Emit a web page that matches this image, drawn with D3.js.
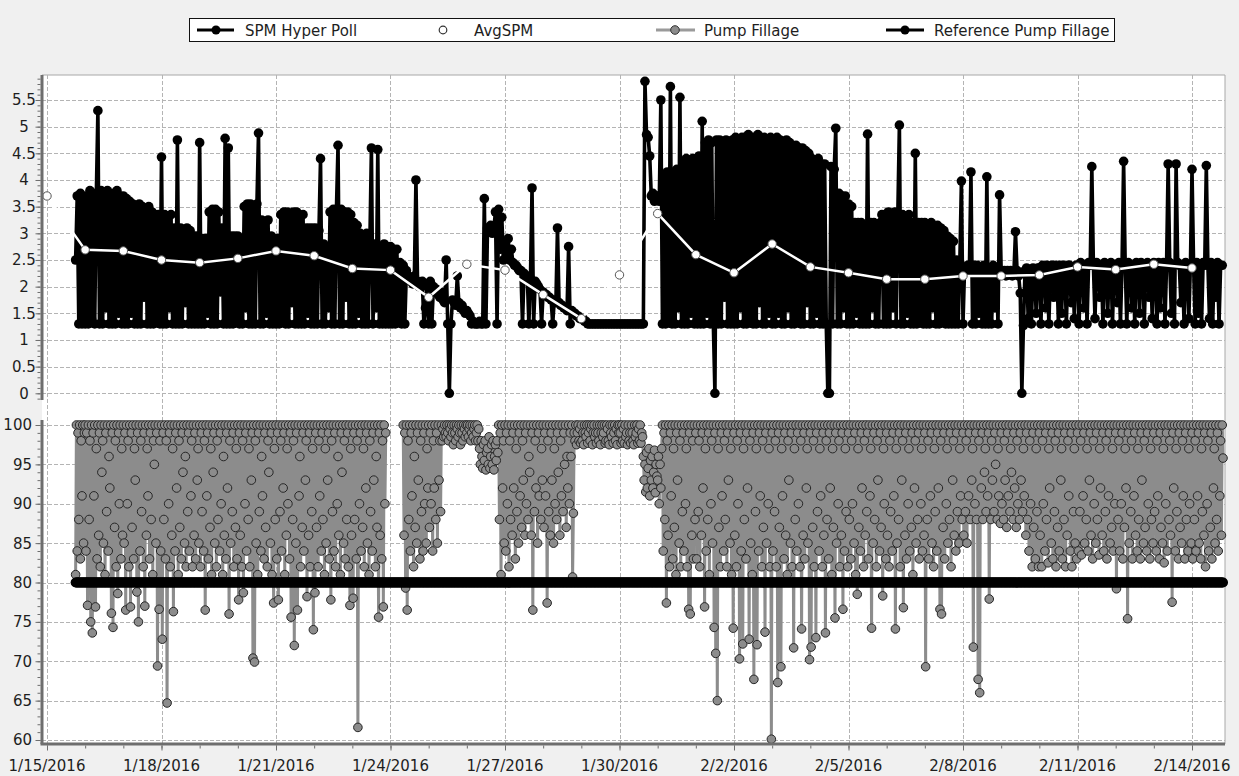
<!DOCTYPE html>
<html>
<head>
<meta charset="utf-8">
<script src="https://cdn.jsdelivr.net/npm/d3@7"></script>
<style>
  body { margin: 0; background: #f0f0f0; }
  svg { display: block; font-family: "DejaVu Sans", Verdana, sans-serif; }
</style>
</head>
<body>
<div id="chart"></div>
<script>
// ---- values ----

// one string per calendar day, first day starts at 18:00
const readingDays = ["1/15/2016", "1/16/2016", "1/17/2016", "1/18/2016", "1/19/2016", "1/20/2016", "1/21/2016",
    "1/22/2016", "1/23/2016", "1/24/2016", "1/25/2016", "1/26/2016", "1/27/2016", "1/28/2016", "1/29/2016",
    "1/30/2016", "1/31/2016", "2/1/2016", "2/2/2016", "2/3/2016", "2/4/2016", "2/5/2016", "2/6/2016",
    "2/7/2016", "2/8/2016", "2/9/2016", "2/10/2016", "2/11/2016", "2/12/2016", "2/13/2016", "2/14/2016"];
const firstReadingHour = 18;

// SPM Hyper Poll, one reading per hour
const spmHyperPoll = [
    "2.5 3.7 1.3 3.75 1.3 3.6",
    "1.3 3.7 1.3 3.8 1.4 3.75 1.3 3.7 5.3 1.3 3.8 1.3 3.75 1.6 3.8 1.3 3.7 1.3 3.75 1.3 3.8 1.5 3.7 1.3",
    "3.7 1.3 3.65 1.3 3.6 1.5 3.55 1.3 3.5 1.3 3.55 1.3 3.5 1.8 3.45 1.3 3.5 1.3 3.4 1.3 3.35 1.4 3.35 1.3",
    "4.43 1.3 3.35 1.3 3.3 1.6 3.35 1.3 3.1 1.3 4.75 1.3 3.1 1.3 3.05 1.7 3.1 1.3 3.05 1.3 2.95 1.3 2.95 1.3",
    "4.7 1.3 2.9 1.3 2.9 1.5 3.4 1.3 3.45 1.3 3.45 1.3 3.4 1.9 3.1 1.3 4.78 1.3 4.6 1.3 2.95 1.3 2.95 1.4",
    "2.95 1.3 2.9 1.3 3.5 1.6 3.55 1.3 3.55 1.3 3.5 1.3 3.55 4.88 1.3 3.25 1.3 3.2 1.5 3.25 1.3 2.95 1.3 2.9",
    "1.3 2.9 1.3 3.35 1.4 3.4 1.3 3.4 1.3 3.35 1.7 3.4 1.3 3.4 1.3 3.3 1.3 3.35 1.3 3.1 1.5 3.1 1.3 3.1",
    "1.3 3.1 1.3 3.05 4.4 1.3 2.8 1.3 2.75 1.6 3.4 1.3 3.45 1.3 3.45 4.65 1.3 3.45 1.3 3.4 1.8 3.4 1.3 3.35",
    "1.3 3.2 1.3 3.15 1.5 3.0 1.3 2.95 1.3 3.0 1.3 2.8 4.6 1.3 2.8 1.6 4.57 1.3 2.75 1.3 2.8 1.3 2.75 1.3",
    "2.75 1.3 2.7 1.3 2.7 1.4 2.45 1.3 2.4 1.3 2.3 2.2 2.15 2.1 2.05 2.2 4.0 2.1 2.0 2.05 2.1 1.3 1.6 2.0",
    "1.3 2.1 1.3 2.0 1.9 1.95 1.85 1.8 1.9 1.75 1.7 2.5 1.3 0 1.3 1.75 1.7 1.65 2.2 1.7 1.6 1.65 1.55 1.5",
    "1.55 1.5 1.45 1.3 1.35 1.3 1.3 1.3 1.35 1.3 1.3 3.65 1.3 3.1 3.05 3.15 3.0 3.1 3.4 1.3 3.45 2.7 3.3 2.5",
    "2.8 2.6 2.9 2.5 2.7 2.45 2.4 2.4 2.35 2.3 2.3 1.3 2.25 2.2 2.2 1.3 2.15 3.85 1.3 2.1 2.05 2.0 1.95 1.3",
    "1.9 1.85 1.85 1.8 1.8 1.75 1.3 1.75 1.7 3.1 1.7 1.65 1.65 1.6 1.6 1.55 2.75 1.3 1.55 1.5 1.5 1.45 1.45 1.4",
    "1.4 1.4 1.35 1.35 1.3 1.3 1.3 1.3 1.3 1.3 1.3 1.3 1.3 1.3 1.3 1.3 1.3 1.3 1.3 1.3 1.3 1.3 1.3 1.3",
    "1.3 1.3 1.3 1.3 1.3 1.3 1.3 1.3 1.3 1.3 1.3 1.3 1.3 1.3 1.3 1.3 5.85 4.85 4.8 4.45 3.7 3.75 3.6 3.7",
    "3.7 3.6 5.5 1.3 4.1 1.3 4.15 1.4 5.75 1.3 4.15 1.3 4.2 1.6 5.55 1.3 4.35 1.3 4.4 1.3 4.35 1.5 4.4 1.3",
    "4.4 1.3 4.45 1.3 5.1 1.3 4.7 1.5 4.75 1.3 4.7 1.3 0 4.75 1.3 4.75 1.3 4.7 1.8 4.75 1.3 4.7 1.3 4.75",
    "1.3 4.8 1.3 4.75 1.6 4.8 1.3 4.8 1.3 4.85 1.4 4.8 1.3 4.8 1.3 4.85 1.7 4.8 1.3 4.8 1.3 4.75 1.5 4.8",
    "1.3 4.75 1.3 4.8 1.5 4.75 1.3 4.7 1.3 4.75 1.6 4.7 1.3 4.6 1.3 4.65 1.4 4.6 1.3 4.6 1.3 4.55 1.7 4.5",
    "1.3 4.4 1.3 4.35 1.5 4.4 1.3 4.3 1.3 4.3 1.3 0 0 4.25 1.3 4.2 4.97 1.3 3.75 1.3 3.7 1.6 3.7 1.3",
    "3.55 1.3 3.5 1.3 3.2 1.5 3.2 1.3 3.2 1.3 3.15 1.3 4.86 1.3 3.2 1.6 3.2 1.3 3.15 1.3 3.2 3.35 1.3 3.35",
    "1.3 3.4 1.3 3.35 1.6 3.4 1.3 3.35 5.03 1.3 3.35 1.3 3.3 1.5 3.35 1.3 3.2 1.3 4.5 1.3 3.2 1.4 3.2 1.3",
    "3.2 1.3 3.15 1.3 3.2 1.6 3.1 1.3 3.15 1.3 3.1 1.4 3.05 1.3 2.95 1.3 2.9 1.3 2.85 1.3 2.5 1.3 2.45 3.98",
    "1.3 2.35 2.3 2.4 2.3 4.15 1.3 2.4 1.3 2.4 1.5 2.35 1.3 2.4 1.3 4.06 1.3 2.35 1.3 2.4 1.6 2.35 1.3 3.72",
    "2.3 2.25 2.3 2.2 2.3 2.25 2.3 2.2 2.25 3.03 2.3 2.2 1.88 0 1.27 2.3 2.35 1.4 2.3 1.3 2.35 2.3 1.5 2.35",
    "2.35 1.3 2.4 2.35 1.6 2.4 1.3 2.35 2.4 1.8 2.4 2.35 1.3 2.4 1.5 2.4 2.35 1.3 2.4 2.4 1.7 2.35 1.4 2.4",
    "2.4 1.3 2.45 2.4 1.6 2.4 1.3 2.45 2.4 4.25 2.4 1.4 2.45 2.4 1.8 2.4 1.3 2.45 2.4 1.5 2.4 2.45 1.3 2.4",
    "2.4 1.7 2.45 1.3 2.4 4.35 2.4 1.3 2.45 2.4 1.6 2.4 1.3 2.45 2.4 1.5 2.45 2.4 1.3 2.4 2.45 1.8 2.4 1.4",
    "2.45 2.4 1.3 2.45 1.6 2.4 2.45 1.3 2.4 4.3 2.45 1.5 2.4 1.3 4.3 2.45 2.4 1.7 2.4 1.3 2.45 2.4 1.4 2.4",
    "4.2 2.4 1.3 2.45 1.5 2.4 1.3 2.45 2.4 4.27 2.4 1.4 2.45 1.3 2.4 1.8 2.45 1.3 2.4 2.4"
];

// Pump Fillage (%), one reading every half hour, "-" = no reading
const pumpFillage = [
    "81 100 84 99 88 100 83 98 91 100 85 99",
    "100 84 99 77.1 100 88 98 75 100 73.6 99 91 100 76.9 97 83 100 86 99 82 100 94 98 85 100 81 99 89 100 84 96 92 100 76.1 99 74.3 100 87 98 82 100 78.6 99 90 100 83 97 86",
    "100 85 99 76.5 100 90 98 82 100 76.9 99 87 100 83 97 93 100 78.8 99 75 100 84 98 89 100 82 99 77 100 86 97 91 100 83 99 88 100 81 98 95 100 85 99 69.4 100 76.6 98 84",
    "100 72.8 99 88 100 83 98 64.7 100 90 99 82 100 86 97 76.3 100 84 99 92 100 81 98 87 100 83 99 94 100 85 96 82 100 89 99 84 100 91 98 82 100 86 99 83 100 93 97 85",
    "100 82 99 89 100 84 98 76.5 100 91 99 83 100 87 97 81 100 94 99 85 100 82 98 88 100 84 99 90 100 81 96 86 100 83 99 92 100 76 98 85 100 89 99 82 100 87 97 83",
    "100 77.8 99 86 100 82 98 78.7 100 90 99 84 100 88 97 82 100 93 99 70.4 100 69.9 98 85 100 81 99 89 100 84 96 91 100 83 99 87 100 82 98 94 100 85 99 81 100 77.4 97 88",
    "100 83 99 77.8 100 89 98 84 100 92 99 81 100 86 97 90 100 83 99 75.6 100 88 98 72 100 85 99 76.5 100 91 96 82 100 87 99 84 100 93 98 78.2 100 86 99 82 100 89 97 74",
    "100 78.7 99 87 100 82 98 91 100 84 99 88 100 81 97 85 100 93 99 83 100 77.8 98 89 100 84 99 82 100 90 96 86 100 81 99 94 100 85 98 83 100 88 99 82 100 77.1 97 86",
    "100 78 99 88 100 83 98 61.6 100 90 99 84 100 87 97 82 100 92 99 85 100 81 98 89 100 84 99 93 100 82 96 87 100 75.6 99 86 100 83 98 76.9 100 90 99 - - - - -",
    "- - - - - - - - - - - - - - - - 100 86 99 79.3 100 76.5 98 88 100 84 99 91 100 82 96 87 100 85 99 93 100 83 98 89 100 84 99 90 100 85 97 92",
    "100 87 99 90 100 84 98 92 100 88 99 85 100 93 98 89 100 98 99.5 98.5 100 99 98.5 100 99 98 100 99.5 98.5 100 99 97.5 100 99 98 100 99.5 98.5 100 99 97.5 100 99 98 100 99.5 98.5 100",
    "99 100 98.5 99.5 100 98 99 100 98.5 99.5 100 98 99 100 98 99.5 97 95 98 96 94.5 97.5 95.5 98 94.3 96.5 97 95 98.5 94.5 96 97.5 95 98 94.3 96 97.5 95.5 98 96.5 100 88 99 81 100 92 98 85",
    "100 84 99 90 100 82 98 88 100 86 99 92 100 83 97 89 100 85 99 91 100 87 98 93 100 86 99 90 100 88 96 94 100 86 99 76.5 100 89 98 92 100 85 99 91 100 88 97 93",
    "100 87 99 91 100 77.4 98 89 100 86 99 93 100 85 97 90 100 88 99 94 100 86 98 91 100 89 99 95 100 87 96 92 100 90 99 96 100 80.7 88.8 99 98 100 97.5 99 100 98 99.5 97.7",
    "100 98 99 97.5 100 99 98.5 100 97.7 99 100 98 99.5 100 97.5 99 100 98.5 99 97.7 100 99 98 100 97.5 99 100 98.5 99 100 97.7 98 100 99.5 98 97.5 100 99 98.5 100 97.7 99 100 98 99.5 97.5 100 99",
    "100 99 97.7 100 98 99.5 97.7 100 98.5 99 97.5 100 98 99 97.7 100 99 98 97.5 100 98.5 99 100 97.7 99.5 98 100 97.7 99 98.5 96 93 95 91.5 96.5 92 94.5 97 91 95.5 93 96 92 94 96.8 91.4 95 93.5",
    "93 96 90 95 92 97 100 84 99 88 100 77.4 98 86 100 82 99 91 100 83 97 87 100 81 99 93 100 85 98 82 100 89 99 84 100 90 97 82 100 76.6 99 76 100 86 98 83 100 88",
    "99 83 100 89 98 82 100 86 99 92 100 76.9 97 84 100 88 99 81 100 90 98 85 100 74.3 99 71 100 65 97 87 100 82 99 91 100 84 98 88 100 82 99 93 100 85 97 81 100 74.2",
    "99 86 100 82 98 90 100 70.3 99 84 100 72.2 97 88 100 83 99 92 100 72.8 98 85 100 81 99 67.7 100 89 97 72.1 100 84 99 91 100 82 98 87 100 73.7 99 85 100 90 97 82 100 60.1",
    "99 84 100 89 98 82 100 67.3 99 87 100 69.3 97 91 100 83 99 86 100 81 98 93 100 85 99 82 100 71.7 97 88 100 84 99 90 100 82 98 74.1 100 86 99 83 100 92 97 85 100 70.2",
    "99 71.8 100 87 98 82 100 73 99 89 100 84 97 91 100 82 99 86 100 73.6 98 88 100 83 99 92 100 81 97 87 100 75.5 99 85 100 90 98 82 100 86 99 76.6 100 84 97 89 100 82",
    "99 88 100 83 98 90 100 85 99 81 100 78.5 97 87 100 84 99 92 100 82 98 86 100 89 99 83 100 91 97 74.2 100 85 99 88 100 82 98 93 100 84 99 87 100 78.3 97 90 100 83",
    "99 86 100 82 98 89 100 84 99 91 100 74.1 97 85 100 88 99 82 100 93 98 76.8 100 86 99 83 100 90 97 84 100 87 99 81 100 92 98 85 100 88 99 83 100 90 97 84 100 86",
    "99 69.3 100 88 98 83 100 91 99 85 100 82 97 89 100 84 99 92 100 76.6 98 76 100 87 99 83 100 90 97 85 100 88 99 82 100 93 98 86 100 84 99 89 100 85 97 91 100 88",
    "99 86 100 89 98 85 100 91 99 88 100 93 97 71.8 100 90 99 88 100 67.7 98 66 100 92 99 88 100 94 97 89 100 91 99 77.9 100 88 98 93 100 89 99 95 100 88 97 91 100 87.5",
    "99 90 100 88 98 93 100 87 99 91 100 89 97 94 100 88 99 92 100 87 98 90 100 88 99 93 100 89 97 91 100 86 99 88 100 84 98 90 100 82 99 87 100 83 97 89 100 82",
    "99 86 100 82 98 90 100 84 99 88 100 82.5 97 92 100 85 99 83 100 89 98 82 100 87 99 84 100 93 97 83 100 88 99 82 100 86 98 91 100 84 99 82 100 89 97 85 100 83",
    "99 84 100 89 98 83.5 100 91 99 85 100 88 97 84 100 93 99 86 100 83 98 90 100 85 99 88 100 83.5 97 92 100 86 99 84 100 89 98 83 100 91 99 85 100 87 97 84 100 90",
    "99 79.2 100 88 98 84 100 90 99 83 100 87 97 92 100 75.4 99 85 100 89 98 83 100 91 99 86 100 84 97 88 100 83 99 93 100 85 98 87 100 84 99 90 100 83 97 88 100 85",
    "99 89 100 84 98 91 100 83 99 87 100 85 97 82.5 100 90 99 84 100 88 98 86 100 77.5 99 92 100 84 97 89 100 83 99 87 100 85 98 91 100 83 99 88 100 84 97 90 100 85",
    "99 83 100 88 98 84 100 91 99 85 100 83 97 89 100 86 99 82 100 90 98 84 100 87 99 83 100 92 97 85 100 88 99 84 100 91 98 86 100 95.8"
];

// Reference Pump Fillage is flat
const referencePumpFillage = 80;

// AvgSPM, one value per day at midnight
const avgSpm = [3.7, 2.69, 2.67, 2.5, 2.45, 2.53, 2.67, 2.58, 2.34, 2.31, 1.8, 2.42, 2.31, 1.85, 1.4, 2.22,
    3.37, 2.6, 2.26, 2.8, 2.37, 2.26, 2.14, 2.14, 2.2, 2.2, 2.22, 2.37, 2.32, 2.42, 2.35];

// axis ticks
const spmTicks = [0, 0.5, 1, 1.5, 2, 2.5, 3, 3.5, 4, 4.5, 5, 5.5];
const fillageTicks = [60, 65, 70, 75, 80, 85, 90, 95, 100];
const dateTicks = ["1/15/2016", "1/18/2016", "1/21/2016", "1/24/2016", "1/27/2016", "1/30/2016",
    "2/2/2016", "2/5/2016", "2/8/2016", "2/11/2016", "2/14/2016"];

const legendItems = ["SPM Hyper Poll", "AvgSPM", "Pump Fillage", "Reference Pump Fillage"];

// ---- layout ----
const width = 1239, height = 776;
const plot = { left: 42, right: 1225, top: 75, bottom: 744 };
const spmPanel = { top: 75, bottom: 400 };
const fillPanel = { top: 420, bottom: 744 };
const axisColor = "#6e6e6e";
const gridColor = "#b4b4b4";
const textColor = "#1e1e1e";

const parseDay = d3.timeParse("%m/%d/%Y");

// turn the per-day strings into {date, value} readings
function expand(days, perDay) {
    const step = 60 * 24 / perDay;
    const out = [];
    days.forEach((s, i) => {
        const day = parseDay(readingDays[i]);
        const start = i === 0 ? firstReadingHour * 60 : 0;
        s.trim().split(/\s+/).forEach((v, j) => {
            out.push({ date: d3.timeMinute.offset(day, start + j * step), value: v === "-" ? null : +v });
        });
    });
    return out;
}

const spmData = expand(spmHyperPoll, 24);
const pumpData = expand(pumpFillage, 48);
const refData = pumpData.map(d => ({ date: d.date, value: referencePumpFillage }));
const avgData = avgSpm.map((v, i) => ({ date: parseDay(readingDays[i]), value: v }));

const svg = d3.select("#chart")
    .append("svg")
    .attr("width", width)
    .attr("height", height);

// background and plot area
svg.append("rect").attr("width", width).attr("height", height).attr("fill", "#f0f0f0");
svg.append("rect")
    .attr("x", plot.left).attr("y", plot.top)
    .attr("width", plot.right - plot.left).attr("height", plot.bottom - plot.top)
    .attr("fill", "#fff");
svg.append("path")
    .attr("d", `M${plot.left},${plot.top}H${plot.right}V${plot.bottom}`)
    .attr("fill", "none").attr("stroke", "#a8a8a8");

// scales
const x = d3.scaleTime()
    .domain([parseDay(dateTicks[0]), parseDay(dateTicks[dateTicks.length - 1])])
    .range([47, 1192]);
const ySpm = d3.scaleLinear().domain([0, 5.5]).range([393.3, 100]);
const yFill = d3.scaleLinear().domain([60, 100]).range([740, 425]);

// dashed grid
const grid = svg.append("g")
    .attr("stroke", gridColor)
    .attr("stroke-width", 1)
    .attr("stroke-dasharray", "4,2");
grid.selectAll(".g-spm").data(spmTicks).join("line")
    .attr("x1", plot.left).attr("x2", plot.right)
    .attr("y1", d => Math.round(ySpm(d)) + 0.5).attr("y2", d => Math.round(ySpm(d)) + 0.5);
grid.selectAll(".g-fill").data(fillageTicks).join("line")
    .attr("x1", plot.left).attr("x2", plot.right)
    .attr("y1", d => Math.round(yFill(d)) + 0.5).attr("y2", d => Math.round(yFill(d)) + 0.5);
grid.selectAll(".g-date").data(dateTicks).join("line")
    .attr("x1", d => Math.round(x(parseDay(d))) + 0.5).attr("x2", d => Math.round(x(parseDay(d))) + 0.5)
    .attr("y1", plot.top).attr("y2", plot.bottom);

// Pump Fillage
svg.append("path")
    .datum(pumpData)
    .attr("d", d3.line()
        .defined(d => d.value !== null)
        .x(d => x(d.date))
        .y(d => yFill(d.value)))
    .attr("fill", "none")
    .attr("stroke", "#8c8c8c")
    .attr("stroke-width", 3)
    .attr("stroke-linejoin", "round");
svg.append("g").selectAll("circle")
    .data(pumpData.filter(d => d.value !== null))
    .join("circle")
    .attr("cx", d => x(d.date))
    .attr("cy", d => yFill(d.value))
    .attr("r", 4.3)
    .attr("fill", "#8c8c8c")
    .attr("stroke", "#262626")
    .attr("stroke-width", 1);

// Reference Pump Fillage
svg.append("path")
    .datum(refData)
    .attr("d", d3.line().x(d => x(d.date)).y(d => yFill(d.value)))
    .attr("fill", "none")
    .attr("stroke", "#000")
    .attr("stroke-width", 3);
svg.append("g").selectAll("circle")
    .data(refData)
    .join("circle")
    .attr("cx", d => x(d.date))
    .attr("cy", d => yFill(d.value))
    .attr("r", 5)
    .attr("fill", "#000");

// SPM Hyper Poll
svg.append("path")
    .datum(spmData)
    .attr("d", d3.line().x(d => x(d.date)).y(d => ySpm(d.value)))
    .attr("fill", "none")
    .attr("stroke", "#000")
    .attr("stroke-width", 3.6)
    .attr("stroke-linejoin", "round");
svg.append("g").selectAll("circle")
    .data(spmData)
    .join("circle")
    .attr("cx", d => x(d.date))
    .attr("cy", d => ySpm(d.value))
    .attr("r", 4.8)
    .attr("fill", "#000");

// AvgSPM
svg.append("path")
    .datum(avgData)
    .attr("d", d3.line().x(d => x(d.date)).y(d => ySpm(d.value)))
    .attr("fill", "none")
    .attr("stroke", "#fff")
    .attr("stroke-width", 2.5);
svg.append("g").selectAll("circle")
    .data(avgData)
    .join("circle")
    .attr("cx", d => x(d.date))
    .attr("cy", d => ySpm(d.value))
    .attr("r", 4.2)
    .attr("fill", "#fff")
    .attr("stroke", "#555")
    .attr("stroke-width", 1);

// ---- axes ----
const axes = svg.append("g").attr("font-size", 15).attr("fill", textColor);

// y axis for SPM: major and minor ticks, labels centred like the original
axes.append("g")
    .attr("transform", `translate(${plot.left - 1.5},0)`)
    .call(d3.axisLeft(ySpm).tickValues(d3.range(-0.1, 5.95, 0.1)).tickSize(3).tickFormat(""))
    .call(g => g.select(".domain").remove())
    .call(g => g.selectAll("line").attr("stroke", axisColor));
axes.append("g")
    .attr("transform", `translate(${plot.left - 1.5},0)`)
    .call(d3.axisLeft(ySpm).tickValues(spmTicks).tickSize(5).tickFormat(""))
    .call(g => g.select(".domain").remove())
    .call(g => g.selectAll("line").attr("stroke", axisColor));
axes.selectAll(".lab-spm").data(spmTicks).join("text")
    .attr("x", 24)
    .attr("y", d => ySpm(d))
    .attr("dy", "0.36em")
    .attr("text-anchor", "middle")
    .text(d => d);
axes.append("line")
    .attr("x1", plot.left).attr("x2", plot.left)
    .attr("y1", spmPanel.top).attr("y2", spmPanel.bottom)
    .attr("stroke", axisColor).attr("stroke-width", 3);

// y axis for Pump Fillage
axes.append("g")
    .attr("transform", `translate(${plot.left - 1.5},0)`)
    .call(d3.axisLeft(yFill).tickValues(d3.range(60, 101, 1)).tickSize(3).tickFormat(""))
    .call(g => g.select(".domain").remove())
    .call(g => g.selectAll("line").attr("stroke", axisColor));
axes.append("g")
    .attr("transform", `translate(${plot.left - 1.5},0)`)
    .call(d3.axisLeft(yFill).tickValues(fillageTicks).tickSize(5).tickFormat(""))
    .call(g => g.select(".domain").remove())
    .call(g => g.selectAll("line").attr("stroke", axisColor));
axes.selectAll(".lab-fill").data(fillageTicks).join("text")
    .attr("x", 32)
    .attr("y", d => yFill(d))
    .attr("dy", "0.36em")
    .attr("text-anchor", "end")
    .text(d => d);
axes.append("line")
    .attr("x1", plot.left).attr("x2", plot.left)
    .attr("y1", fillPanel.top).attr("y2", fillPanel.bottom)
    .attr("stroke", axisColor).attr("stroke-width", 3);

// date axis
axes.append("g")
    .attr("transform", `translate(0,${plot.bottom + 1.5})`)
    .call(d3.axisBottom(x).tickValues(readingDays.map(parseDay)).tickSize(3).tickFormat(""))
    .call(g => g.select(".domain").remove())
    .call(g => g.selectAll("line").attr("stroke", axisColor));
axes.append("g")
    .attr("transform", `translate(0,${plot.bottom + 1.5})`)
    .call(d3.axisBottom(x).tickValues(dateTicks.map(parseDay)).tickSize(5).tickFormat(""))
    .call(g => g.select(".domain").remove())
    .call(g => g.selectAll("line").attr("stroke", axisColor));
axes.selectAll(".lab-date").data(dateTicks).join("text")
    .attr("x", d => x(parseDay(d)))
    .attr("y", 771)
    .attr("text-anchor", "middle")
    .text(d => d);
axes.append("line")
    .attr("x1", plot.left - 1.5).attr("x2", plot.right)
    .attr("y1", plot.bottom).attr("y2", plot.bottom)
    .attr("stroke", axisColor).attr("stroke-width", 3);

// ---- legend ----
const legend = svg.append("g").attr("font-size", 15).attr("fill", textColor);
legend.append("rect")
    .attr("x", 189.5).attr("y", 18.5)
    .attr("width", 925).attr("height", 23)
    .attr("fill", "#fff")
    .attr("stroke", "#111");

const legendY = 30;
// SPM Hyper Poll
legend.append("line").attr("x1", 197).attr("x2", 234).attr("y1", legendY).attr("y2", legendY)
    .attr("stroke", "#000").attr("stroke-width", 3);
legend.append("circle").attr("cx", 216).attr("cy", legendY).attr("r", 4.5).attr("fill", "#000");
// AvgSPM (marker only)
legend.append("circle").attr("cx", 443).attr("cy", legendY).attr("r", 3.8)
    .attr("fill", "#fff").attr("stroke", "#333").attr("stroke-width", 1.2);
// Pump Fillage
legend.append("line").attr("x1", 656).attr("x2", 695).attr("y1", legendY).attr("y2", legendY)
    .attr("stroke", "#9a9a9a").attr("stroke-width", 3);
legend.append("circle").attr("cx", 675).attr("cy", legendY).attr("r", 4.3)
    .attr("fill", "#8c8c8c").attr("stroke", "#333");
// Reference Pump Fillage
legend.append("line").attr("x1", 886).attr("x2", 924).attr("y1", legendY).attr("y2", legendY)
    .attr("stroke", "#000").attr("stroke-width", 3);
legend.append("circle").attr("cx", 905).attr("cy", legendY).attr("r", 4.5).attr("fill", "#000");

const legendTextX = [245, 474, 704, 934];
legend.selectAll(".lab-legend").data(legendItems).join("text")
    .attr("x", (d, i) => legendTextX[i])
    .attr("y", legendY + 5.5)
    .text(d => d);
</script>
</body>
</html>
